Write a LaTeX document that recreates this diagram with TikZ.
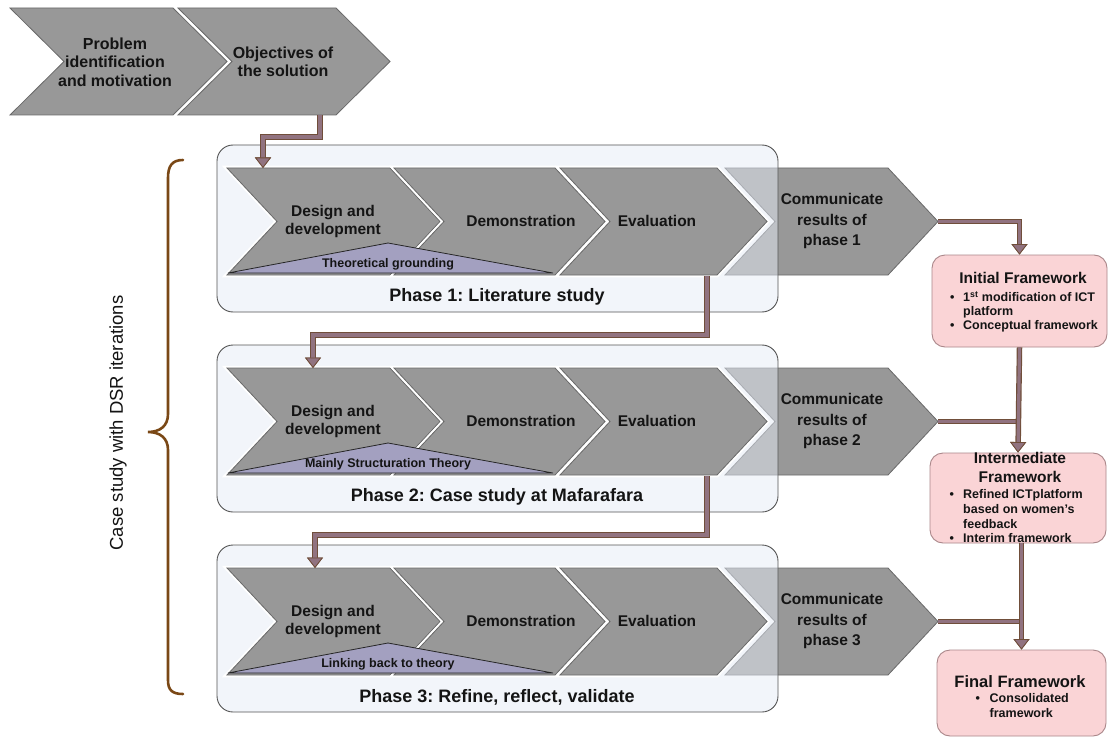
\documentclass[tikz,border=0pt]{standalone}
\usepackage{fontspec}
\setmainfont{Liberation Sans}
\usetikzlibrary{arrows.meta}
\frenchspacing
\definecolor{chevgray}{RGB}{152,152,152}
\definecolor{chevedge}{RGB}{105,105,105}
\definecolor{boxfill}{RGB}{230,236,247}
\definecolor{boxedge}{RGB}{85,85,85}
\definecolor{trifill}{RGB}{163,160,192}
\definecolor{pinkfill}{RGB}{250,212,214}
\definecolor{pinkedge}{RGB}{170,135,138}
\definecolor{arrowfill}{RGB}{145,115,128}
\definecolor{arrowedge}{RGB}{112,78,58}
\definecolor{bracecol}{RGB}{122,72,22}
\definecolor{txtcol}{RGB}{20,20,20}
\newcommand\fsz[2]{\fontsize{#1}{#2}\selectfont}
% chevron: name, x top-left, y top, top width, depth
\newcommand\chev[5]{%
  \path[chevst] (#2,#3) coordinate (#1-tl) -- ++(#4,0) coordinate (#1-tr)
    -- ++(#5,53.5) coordinate (#1-tip) -- ++(-#5,53.5) coordinate (#1-br)
    -- ++(-#4,0) coordinate (#1-bl) -- ++(#5,-53.5) coordinate (#1-notch) -- cycle;}
\tikzset{
  chevst/.style={fill=chevgray, draw=chevedge, line width=0.8, line join=miter,
    preaction={draw=white, line width=4.5}},
  chevtxt/.style={font=\bfseries\fsz{15.5}{18}, align=center, text=txtcol, inner sep=0},
  comtxt/.style={chevtxt, font=\bfseries\fsz{15.5}{20.5}},
  tritxt/.style={font=\bfseries\fsz{12.5}{14}, text=txtcol, inner sep=0},
  phasetxt/.style={font=\bfseries\fsz{18}{20}, text=txtcol, inner sep=0},
  phasebox/.style={draw=boxedge, line width=0.9, rounded corners=16, fill=boxfill, fill opacity=0.5, inner sep=0},
  tri/.style={fill=trifill, draw=black!85, line width=0.8, line join=miter},
  fwbox/.style={draw=pinkedge, line width=0.9, rounded corners=13, fill=pinkfill, inner sep=0},
  fwtitle/.style={font=\bfseries\fsz{15.5}{19}, text=txtcol, align=center, inner sep=0},
  fwlist/.style={text=txtcol, inner sep=0, anchor=north west},
  conn/.style={draw=arrowfill, line width=3.2, preaction={draw=arrowedge, line width=5.5},
    -{Triangle[width=16pt,length=10.5pt,fill=arrowfill,color=arrowedge,line width=0.8pt]}},
  connplain/.style={draw=arrowfill, line width=3.2, preaction={draw=arrowedge, line width=5.5}},
  brace/.style={draw=bracecol, line width=2.6, line cap=round},
  sidetxt/.style={font=\fsz{18.5}{20}, text=txtcol, rotate=90, inner sep=0}
}
\newcommand\phaserow[4]{%
  \chev{com#2}{725}{168+#1}{163}{50}
  \node[phasebox, minimum width=561, minimum height=167] (box#2) at (497.5,228.5+#1) {};
  \chev{des#2}{227}{168+#1}{163}{50}
  \chev{dem#2}{394}{168+#1}{161}{50}
  \chev{eva#2}{560}{168+#1}{157}{50}
  \path[tri] (228,273+#1) -- (388,243+#1) -- (553,273+#1) -- cycle;
  \node[chevtxt] (tdes#2) at (333,221+#1) {Design and\\development};
  \node[chevtxt] (tdem#2) at (521,221+#1) {Demonstration};
  \node[chevtxt] (teva#2) at (657,221+#1) {Evaluation};
  \node[comtxt] (tcom#2) at (832,221+#1) {Communicate\\results of\\phase #2};
  \node[tritxt] (ttri#2) at (388,264+#1) {#3};
  \node[phasetxt] (tph#2) at (497,297+#1) {#4};
}
\begin{document}
\begin{tikzpicture}[x=1pt,y=-1pt]
\useasboundingbox (0,0) rectangle (1108,738);
\fill[white] (0,0) rectangle (1108,738);

% top chevrons
\chev{prob}{10}{8}{163}{54}
\chev{obj}{178}{8}{158}{54}
\node[chevtxt, font=\bfseries\fsz{16}{18.5}] (tprob) at (115,62) {Problem\\identification\\and motivation};
\node[chevtxt, font=\bfseries\fsz{16}{18.5}] (tobj) at (283,62) {Objectives of\\the solution};

% phases
\phaserow{0}{1}{Theoretical grounding}{Phase 1: Literature study}
\phaserow{200}{2}{Mainly Structuration Theory}{Phase 2: Case study at Mafarafara}
\phaserow{400}{3}{Linking back to theory}{Phase 3: Refine, reflect, validate}

% brace and side text
\draw[brace] (183,160) .. controls (172,160) and (168,166) .. (168,178) -- (168,414)
  .. controls (168,426) and (160,432) .. (148,432)
  .. controls (160,432) and (168,438) .. (168,450) -- (168,680)
  .. controls (168,690) and (172,694) .. (183,694);
\node[sidetxt] (side) at (118,423) {Case study with DSR iterations};

% framework boxes
\node[fwbox, minimum width=175, minimum height=92] (init) at (1019.5,301) {};
\node[fwbox, minimum width=176, minimum height=90] (inter) at (1018,498) {};
\node[fwbox, minimum width=169, minimum height=86] (final) at (1021.5,693) {};

\node[fwtitle] (tinit) at (1023,278) {Initial Framework};
\node[fwlist, font=\bfseries\fsz{12.5}{14}] (linit) at (950,291.7)
  {\begin{tabular}{@{}p{13pt}@{}l@{}}•&1\textsuperscript{st} modification of ICT\\&platform\\•&Conceptual framework\end{tabular}};

\node[fwtitle, font=\bfseries\fsz{15.5}{19}] (tinter) at (1020,467.5) {Intermediate\\Framework};
\node[fwlist, font=\bfseries\fsz{12.5}{14.7}] (linter) at (949.5,488.2)
  {\begin{tabular}{@{}p{13.5pt}@{}l@{}}•&Refined ICTplatform\\&based on women's\\&feedback\\•&Interim framework\end{tabular}};

\node[fwtitle, font=\bfseries\fsz{16.5}{19}] (tfinal) at (1020,682) {Final Framework};
\node[fwlist, font=\bfseries\fsz{12.5}{15}] (lfinal) at (975.5,692)
  {\begin{tabular}{@{}p{14pt}@{}l@{}}•&Consolidated\\&framework\end{tabular}};

% connectors
\coordinate (objb) at (320,115);
\coordinate (des1t) at (263,168);
\draw[conn] (objb) -- ++(0,22) -| (des1t);
\coordinate (eva1b) at (707,276);
\coordinate (des2t) at (313,368);
\draw[conn] (eva1b) -- ++(0,59) -| (des2t);
\coordinate (eva2b) at (707,476);
\coordinate (des3t) at (315,568);
\draw[conn] (eva2b) -- ++(0,59) -| (des3t);

\draw[conn] (com1-tip) -| (init.north);
\draw[connplain] (com2-tip) -- (com2-tip -| inter.north);
\draw[conn] (init.south) -- (inter.north);
\draw[connplain] (com3-tip) -- (com3-tip -| final.north);
\draw[conn] (inter.south -| final.north) -- (final.north);
\end{tikzpicture}
\end{document}
